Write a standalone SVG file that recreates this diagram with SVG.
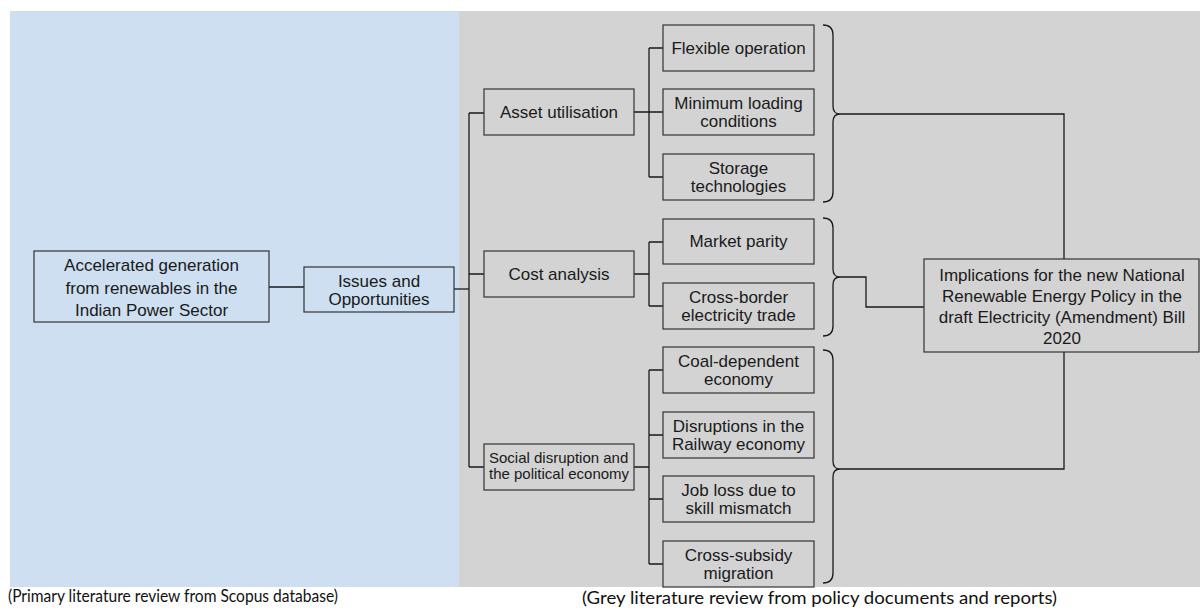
<svg xmlns="http://www.w3.org/2000/svg" width="1200" height="612" viewBox="0 0 1200 612">
<style>
.box{fill:none;stroke:#333;stroke-width:1.2}
.t{font-family:"Liberation Sans",Arial,sans-serif;font-size:17px;fill:#1a1a1a;text-anchor:middle}
.s{font-family:"Liberation Sans",Arial,sans-serif;font-size:15px;fill:#1a1a1a}
.cap{font-family:Lato,"Liberation Sans",sans-serif;font-size:16.5px;fill:#111}
.ln{fill:none;stroke:#1a1a1a;stroke-width:1.3}
</style>
<rect x="0" y="0" width="1200" height="612" fill="#fff"/>
<rect x="10" y="11" width="449" height="576" fill="#cddff0"/>
<rect x="459" y="11" width="741" height="576" fill="#d3d3d3"/>

<g id="connectors">
<path class="ln" d="M269,287H304"/>
<path class="ln" d="M454,289H469"/>
<path class="ln" d="M469,113V467M469,113H484M469,274H484M469,467H484"/>
<path class="ln" d="M634,112H649M649,48V177M649,48H663M649,112H663M649,177H663"/>
<path class="ln" d="M634,274H649M649,242V306M649,242H663M649,306H663"/>
<path class="ln" d="M634,467H649M649,370V564M649,370H663M649,435H663M649,499H663M649,564H663"/>
<path class="ln" d="M823,25Q833,25 833,35V106Q833,114 840,114Q833,114 833,122V192Q833,202 823,202"/>
<path class="ln" d="M823,218Q833,218 833,228V269Q833,277 840,277Q833,277 833,285V326Q833,336 823,336"/>
<path class="ln" d="M823,350Q833,350 833,360V461Q833,469 840,469Q833,469 833,477V573Q833,583 823,583"/>
<path class="ln" d="M840,114H1064V259"/>
<path class="ln" d="M840,277H866V307H924"/>
<path class="ln" d="M840,469H1064V352"/>
</g>

<g id="n-accelerated">
<rect class="box" x="34" y="251" width="235" height="71"/>
<text class="t" x="151.5" y="271">Accelerated generation</text>
<text class="t" x="151.5" y="294">from renewables in the</text>
<text class="t" x="151.5" y="316">Indian Power Sector</text>
</g>
<g id="n-issues">
<rect class="box" x="304" y="267" width="150" height="45"/>
<text class="t" x="379" y="287">Issues and</text>
<text class="t" x="379" y="305">Opportunities</text>
</g>
<g id="n-asset">
<rect class="box" x="484" y="89" width="150" height="46"/>
<text class="t" x="559" y="118">Asset utilisation</text>
</g>
<g id="n-cost">
<rect class="box" x="484" y="251" width="150" height="46"/>
<text class="t" x="559" y="280">Cost analysis</text>
</g>
<g id="n-social">
<rect class="box" x="484" y="444" width="150" height="46"/>
<text class="s" x="489" y="463">Social disruption and</text>
<text class="s" x="489" y="479">the political economy</text>
</g>
<g id="n-flexible">
<rect class="box" x="663" y="25" width="151" height="46"/>
<text class="t" x="738.5" y="54">Flexible operation</text>
</g>
<g id="n-minimum">
<rect class="box" x="663" y="89" width="151" height="46"/>
<text class="t" x="738.5" y="109">Minimum loading</text>
<text class="t" x="738.5" y="127">conditions</text>
</g>
<g id="n-storage">
<rect class="box" x="663" y="154" width="151" height="46"/>
<text class="t" x="738.5" y="174">Storage</text>
<text class="t" x="738.5" y="192">technologies</text>
</g>
<g id="n-market">
<rect class="box" x="663" y="219" width="151" height="45"/>
<text class="t" x="738.5" y="247">Market parity</text>
</g>
<g id="n-crossborder">
<rect class="box" x="663" y="283" width="151" height="46"/>
<text class="t" x="738.5" y="303">Cross-border</text>
<text class="t" x="738.5" y="321">electricity trade</text>
</g>
<g id="n-coal">
<rect class="box" x="663" y="347" width="151" height="46"/>
<text class="t" x="738.5" y="367">Coal-dependent</text>
<text class="t" x="738.5" y="385">economy</text>
</g>
<g id="n-railway">
<rect class="box" x="663" y="412" width="151" height="46"/>
<text class="t" x="738.5" y="432">Disruptions in the</text>
<text class="t" x="738.5" y="450">Railway economy</text>
</g>
<g id="n-job">
<rect class="box" x="663" y="476" width="151" height="46"/>
<text class="t" x="738.5" y="496">Job loss due to</text>
<text class="t" x="738.5" y="514">skill mismatch</text>
</g>
<g id="n-subsidy">
<rect class="box" x="663" y="541" width="151" height="46"/>
<text class="t" x="738.5" y="561">Cross-subsidy</text>
<text class="t" x="738.5" y="579">migration</text>
</g>
<g id="n-implications">
<rect class="box" x="924" y="259" width="275" height="93"/>
<text class="t" x="1062" y="281">Implications for the new National</text>
<text class="t" x="1062" y="302">Renewable Energy Policy in the</text>
<text class="t" x="1062" y="323">draft Electricity (Amendment) Bill</text>
<text class="t" x="1062" y="344">2020</text>
</g>

<g id="captions">
<text class="cap" x="8" y="602" textLength="330" lengthAdjust="spacingAndGlyphs">(Primary literature review from Scopus database)</text>
<text class="cap" x="582" y="604" textLength="475" lengthAdjust="spacingAndGlyphs">(Grey literature review from policy documents and reports)</text>
</g>
</svg>
